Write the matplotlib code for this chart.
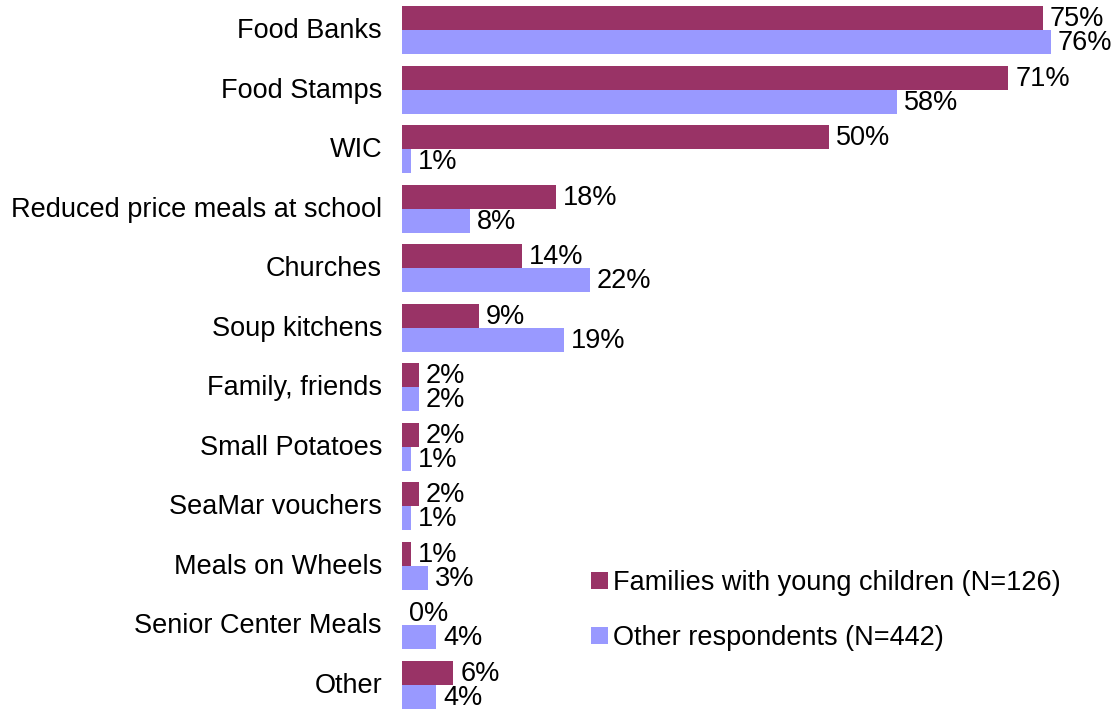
import matplotlib
matplotlib.use("Agg")
import matplotlib.pyplot as plt
from matplotlib.transforms import ScaledTranslation
import numpy as np

plt.rcParams['font.family'] = ['Liberation Sans', 'DejaVu Sans']

# Food sources used, share of respondents (%)
categories = ['Food Banks', 'Food Stamps', 'WIC', 'Reduced price meals at school',
              'Churches', 'Soup kitchens', 'Family, friends', 'Small Potatoes',
              'SeaMar vouchers', 'Meals on Wheels', 'Senior Center Meals', 'Other']
families = [75, 71, 50, 18, 14, 9, 2, 2, 2, 1, 0, 6]
others = [76, 58, 1, 8, 22, 19, 2, 1, 1, 3, 4, 4]

label_fam = 'Families with young children (N=126)'
label_oth = 'Other respondents (N=442)'

col_fam = '#993366'
col_oth = '#9999FF'
fs = 19.5

W, H = 1116, 711
fig = plt.figure(figsize=(W / 100, H / 100), dpi=100)
ax = fig.add_axes([402 / W, 0, 1 - 402 / W, 1])

y = np.arange(len(categories))
bh = 0.403
ax.barh(y - bh / 2, families, height=bh, color=col_fam, label=label_fam)
ax.barh(y + bh / 2, others, height=bh, color=col_oth, label=label_oth)

px = 8.54  # pixels per percent
ax.set_xlim(0, (W - 402) / px)
ax.set_ylim(11 + (H - 685) / 59.545, -30 / 59.545)

for i in range(len(categories)):
    ax.annotate(f'{families[i]}%', (families[i], y[i] - bh / 2), xytext=(7, -1),
                textcoords='offset pixels', va='center', ha='left', fontsize=fs)
    ax.annotate(f'{others[i]}%', (others[i], y[i] + bh / 2), xytext=(7, -1),
                textcoords='offset pixels', va='center', ha='left', fontsize=fs)

ax.set_yticks(y)
ax.set_yticklabels(categories, fontsize=fs)
ax.tick_params(axis='y', length=0, pad=14.4)
# nudge category labels up a little
shift = ScaledTranslation(0, 2 / 100, fig.dpi_scale_trans)
for lbl in ax.get_yticklabels():
    lbl.set_transform(lbl.get_transform() + shift)
ax.set_xticks([])
for s in ax.spines.values():
    s.set_visible(False)

ax.legend(loc='upper left', bbox_to_anchor=(591 / W, 1 - 570 / H),
          bbox_transform=fig.transFigure, frameon=False, fontsize=fs,
          handlelength=0.63, handleheight=0.63, handletextpad=0.19,
          labelspacing=1.07, borderpad=0, borderaxespad=0)

fig.savefig('out.png', dpi=100)
